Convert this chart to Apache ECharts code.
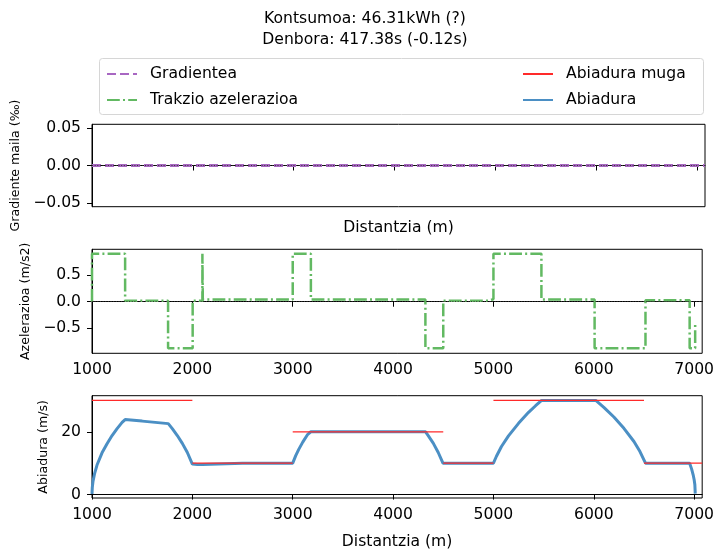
<!DOCTYPE html>
<html>
<head>
<meta charset="utf-8">
<script src="https://cdn.jsdelivr.net/npm/echarts@6/dist/echarts.min.js"></script>
<style>html,body{margin:0;padding:0;background:#fff;}#c{width:717px;height:551px;}</style>
</head>
<body>
<div id="c"></div>
<script>
// ---- data ----
var titleLines = ['Kontsumoa: 46.31kWh (?)', 'Denbora: 417.38s (-0.12s)'];
var xTicks = [1000, 2000, 3000, 4000, 5000, 6000, 7000];
var gradeTicks = [-0.05, 0, 0.05];
var accTicks = [-0.5, 0, 0.5];
var speedTicks = [0, 20];

var gradeDist = [1000, 2000, 3000, 4000, 5000, 6000, 7080];
var gradeVal  = [0, 0, 0, 0, 0, 0, 0];

var accDist = [1000, 1000, 1330, 1330, 1758, 1758, 2003, 2003, 2100, 2100, 2104, 2104, 3000, 3000, 3181, 3181, 4322, 4322, 4500, 4500, 4960, 4960, 5000, 5000, 5478, 5478, 6008, 6008, 6515, 6515, 6955, 6955, 7010, 7010];
var accVal  = [0, 0.9, 0.9, 0.02, 0.02, -0.87, -0.87, 0.02, 0.02, 0.9, 0.9, 0.04, 0.04, 0.9, 0.9, 0.04, 0.04, -0.87, -0.87, 0.02, 0.02, 0.05, 0.05, 0.9, 0.9, 0.04, 0.04, -0.87, -0.87, 0.03, 0.03, -0.87, -0.87, -0.4];

var limitStart = [1000, 2000, 3000, 4500, 5000, 6500];
var limitEnd   = [2000, 3000, 4500, 5000, 6500, 7080];
var limitVal   = [30, 10, 20, 10, 30, 10];

var speedDist = [1000, 1003, 1010, 1025, 1050, 1100, 1150, 1200, 1250, 1300, 1330, 1500, 1760, 1800, 1850, 1900, 1950, 2000, 2050, 2100, 2104, 2500, 3000, 3030, 3060, 3100, 3150, 3181, 3700, 4324, 4350, 4400, 4450, 4497, 4750, 5000, 5030, 5080, 5150, 5250, 5350, 5420, 5480, 5750, 6020, 6100, 6200, 6300, 6400, 6460, 6515, 6800, 6955, 6975, 6990, 7000, 7007, 7011];
var speedVal  = [0.2, 2.3, 4.2, 6.6, 9.4, 13.3, 16.2, 18.8, 21.0, 23.0, 23.9, 23.4, 22.6, 21.0, 18.8, 16.3, 13.4, 9.7, 9.6, 9.6, 10.0, 10.0, 10.0, 12.4, 14.4, 16.7, 19.2, 20.0, 20.0, 20.0, 18.8, 16.4, 13.4, 10.0, 10.0, 10.0, 12.2, 15.3, 18.7, 22.7, 26.2, 28.3, 30.0, 30.0, 30.0, 27.8, 24.7, 21.1, 16.9, 13.7, 10.0, 10.0, 10.0, 8.1, 6.3, 4.7, 3.1, 0.3];

// ---- build ----
function pairs(xs, ys) { return xs.map(function (x, i) { return [x, ys[i]]; }); }
var limitData = [];
limitStart.forEach(function (s, i) {
  limitData.push([s, limitVal[i]]);
  limitData.push([limitEnd[i], limitVal[i]]);
  limitData.push([limitEnd[i], '-']);
});

var FONT = 'DejaVu Sans';
var BLACK = '#000';
var FS = 15.6;
function fmt(d) { return function (v) { return v.toFixed(d).replace('-', '\u2212'); }; }

var grids = [
  { left: 92, right: 12, top: 124.3, height: 82.4 },
  { left: 92, right: 12, top: 249.3, height: 104 },
  { left: 92, right: 12, top: 395.7, height: 103.6 }
].map(function (g) { g.show = true; g.borderColor = BLACK; g.borderWidth = 1; g.backgroundColor = 'transparent'; return g; });

function xAxis(i, showLabels, name, gap) {
  return {
    type: 'value', gridIndex: i, min: 1000, max: 7080,
    splitLine: { show: false },
    axisLine: { show: true, lineStyle: { color: BLACK, width: 1 } },
    axisTick: { show: true, customValues: xTicks, length: 5, lineStyle: { color: BLACK } },
    axisLabel: { show: showLabels, customValues: xTicks, formatter: function (v) { return String(v); },
      color: BLACK, fontSize: FS, fontFamily: FONT, margin: 9 },
    name: name, nameLocation: 'middle', nameGap: gap,
    nameTextStyle: { color: BLACK, fontSize: FS, fontFamily: FONT }
  };
}
function yAxis(i, min, max, ticks, dec, name, gap) {
  return {
    type: 'value', gridIndex: i, min: min, max: max,
    splitLine: { show: false },
    axisLine: { show: true, lineStyle: { color: BLACK, width: 1 } },
    axisTick: { show: true, customValues: ticks, length: 5, lineStyle: { color: BLACK } },
    axisLabel: { customValues: ticks, formatter: fmt(dec), color: BLACK, fontSize: FS, fontFamily: FONT, margin: 11 },
    name: name, nameLocation: 'middle', nameRotate: 90, nameGap: gap,
    nameTextStyle: { color: BLACK, fontSize: 12.6, fontFamily: FONT }
  };
}

var zeroLine = {
  silent: true, symbol: ['none', 'none'], label: { show: false },
  lineStyle: { color: '#333', width: 1, type: [1, 1.65] },
  emphasis: { disabled: true },
  data: [{ yAxis: 0 }]
};

var legendCommon = {
  orient: 'vertical', top: 66, padding: 0,
  itemWidth: 30, itemHeight: 14, itemGap: 10,
  itemStyle: { color: 'rgba(0,0,0,0)', borderColor: 'rgba(0,0,0,0)', borderWidth: 0 },
  textStyle: { fontSize: FS, color: BLACK, fontFamily: FONT, padding: [0, 0, 0, 8] }
};

var option = {
  animation: false,
  backgroundColor: '#fff',
  textStyle: { fontFamily: FONT },
  title: {
    text: titleLines.join('\n'), left: 365, top: 8, padding: 0, textAlign: 'center',
    textStyle: { fontSize: FS, fontWeight: 'normal', color: BLACK, fontFamily: FONT, lineHeight: 21 }
  },
  legend: [
    Object.assign({ data: ['Gradientea', 'Trakzio azelerazioa'], left: 106 }, legendCommon),
    Object.assign({ data: ['Abiadura muga', 'Abiadura'], left: 522 }, legendCommon)
  ],
  graphic: [{
    type: 'rect', z: -1, silent: true,
    shape: { x: 99.5, y: 58.5, width: 604, height: 56, r: 3 },
    style: { fill: '#fff', stroke: '#d6d6d6', lineWidth: 1 }
  }],
  grid: grids,
  xAxis: [
    xAxis(0, false, 'Distantzia (m)', 13),
    xAxis(1, true, '', 0),
    xAxis(2, true, 'Distantzia (m)', 36)
  ],
  yAxis: [
    yAxis(0, -0.055, 0.055, gradeTicks, 2, 'Gradiente maila (\u2030)', 65),
    yAxis(1, -0.967, 0.983, accTicks, 1, 'Azelerazioa (m/s2)', 55),
    yAxis(2, -1.1, 31.5, speedTicks, 0, 'Abiadura (m/s)', 36)
  ],
  series: [
    { type: 'line', name: '_zero0', xAxisIndex: 0, yAxisIndex: 0, data: [], z: 1, markLine: zeroLine },
    { type: 'line', name: '_zero1', xAxisIndex: 1, yAxisIndex: 1, data: [], z: 1, markLine: zeroLine },
    { type: 'line', name: 'Gradientea', xAxisIndex: 0, yAxisIndex: 0, data: pairs(gradeDist, gradeVal),
      symbol: 'none', z: 3, color: '#a867c2',
      lineStyle: { color: '#a867c2', width: 2.8, type: [9, 4] } },
    { type: 'line', name: 'Trakzio azelerazioa', xAxisIndex: 1, yAxisIndex: 1, data: pairs(accDist, accVal),
      symbol: 'none', z: 3, color: '#62b962',
      lineStyle: { color: '#62b962', width: 2.5, type: [12.8, 3.2, 2, 3.2] } },
    { type: 'line', name: 'Abiadura', xAxisIndex: 2, yAxisIndex: 2, data: pairs(speedDist, speedVal),
      symbol: 'none', z: 3, color: '#4b8fc4',
      lineStyle: { color: '#4b8fc4', width: 3 } },
    { type: 'line', name: 'Abiadura muga', xAxisIndex: 2, yAxisIndex: 2, data: limitData,
      symbol: 'none', z: 4, color: '#ff2a2a', connectNulls: false,
      lineStyle: { color: '#ff2a2a', width: 1.2 } }
  ]
};
var chart = echarts.init(document.getElementById('c'), null, { renderer: 'canvas' });
chart.setOption(option);
</script>
</body>
</html>
